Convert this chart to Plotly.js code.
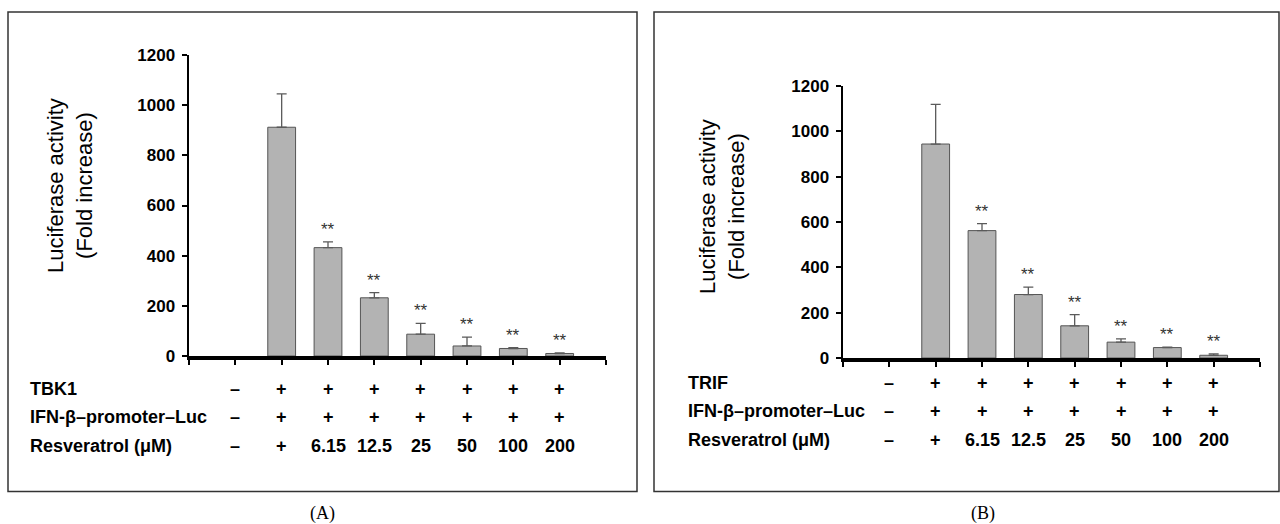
<!DOCTYPE html>
<html>
<head>
<meta charset="utf-8">
<script src="https://cdn.plot.ly/plotly-3.0.1.min.js"></script>
<style>html,body{margin:0;padding:0;background:#fff;}#chart{width:1280px;height:524px;}</style>
</head>
<body>
<div id="chart"></div>
<script>
// ---- data ----
const positions = [1, 2, 3, 4, 5, 6, 7, 8];
const valuesA = [0, 912, 432, 232, 87, 40, 30, 10];
const errorsA = [null, 133, 23, 21, 43, 35, 3, 2];
const valuesB = [0, 944, 562, 280, 142, 70, 46, 12];
const errorsB = [null, 175, 31, 33, 49, 14, 2, 6];
const sig = ['', '', '**', '**', '**', '**', '**', '**'];
const rowNamesA = ['TBK1', 'IFN-β–promoter–Luc', 'Resveratrol (μM)'];
const rowNamesB = ['TRIF', 'IFN-β–promoter–Luc', 'Resveratrol (μM)'];
const rowKinase = ['–', '+', '+', '+', '+', '+', '+', '+'];
const rowReporter = ['–', '+', '+', '+', '+', '+', '+', '+'];
const rowResveratrol = ['–', '+', '6.15', '12.5', '25', '50', '100', '200'];
const yTitle = 'Luciferase activity<br>(Fold increase)';
const panelLabels = ['(A)', '(B)'];

// ---- layout helpers ----
const W = 1280, H = 524;
const px = v => v / W;
const py = v => 1 - v / H;
const FONT = 'Liberation Sans, Arial, sans-serif';

function barTrace(vals, errs, xa, ya) {
  return {
    type: 'bar', x: positions, y: vals.map(v => v > 0 ? v : null), xaxis: xa, yaxis: ya, width: 0.6,
    marker: {color: '#b3b3b3', line: {color: '#555555', width: 1}},
    error_y: {type: 'data', array: errs, symmetric: false, arrayminus: errs.map(() => 0),
              color: '#5a5a5a', thickness: 1.3, width: 5},
    hoverinfo: 'skip', showlegend: false
  };
}

const traces = [barTrace(valuesA, errorsA, 'x', 'y'), barTrace(valuesB, errorsB, 'x2', 'y2')];

function xAxis(domain, anchor) {
  return {domain: domain, anchor: anchor, range: [0, 9], tickvals: [0,1,2,3,4,5,6,7,8,9],
          showticklabels: false, ticks: 'outside', ticklen: 5, tickwidth: 2, tickcolor: '#000',
          showline: true, linecolor: '#000', linewidth: 3.5, showgrid: false, zeroline: false, fixedrange: true};
}
function yAxis(domain, anchor) {
  return {domain: domain, anchor: anchor, range: [0, 1200], dtick: 200, tick0: 0,
          ticks: 'outside', ticklen: 5, tickwidth: 2, tickcolor: '#000', ticklabelstandoff: 3,
          tickfont: {family: FONT, size: 17, color: '#000', weight: 'bold'},
          showline: true, linecolor: '#000', linewidth: 2.5, showgrid: false, zeroline: false, fixedrange: true};
}

const annotations = [];
function addPanel(xref, yref, vals, errs, names, labelX, rowYs, titleX, titleY, panelX, panelLabel) {
  // significance stars
  positions.forEach((p, i) => {
    if (sig[i]) annotations.push({x: p, y: vals[i] + (errs[i] || 0), xref: xref, yref: yref, text: sig[i],
      showarrow: false, yanchor: 'bottom', yshift: 1, font: {family: FONT, size: 17, color: '#333'}});
  });
  // treatment rows
  const rows = [rowKinase, rowReporter, rowResveratrol];
  rows.forEach((row, r) => {
    annotations.push({x: px(labelX), y: py(rowYs[r]), xref: 'paper', yref: 'paper', text: names[r],
      showarrow: false, xanchor: 'left', yanchor: 'middle', font: {family: FONT, size: 18, color: '#000', weight: 'bold'}});
    row.forEach((t, i) => {
      annotations.push({x: positions[i], y: py(rowYs[r]), xref: xref, yref: 'paper', text: t,
        showarrow: false, xanchor: 'center', yanchor: 'middle', font: {family: FONT, size: 18, color: '#000', weight: 'bold'}});
    });
  });
  // y title
  annotations.push({x: px(titleX), y: py(titleY), xref: 'paper', yref: 'paper', text: yTitle, textangle: -90,
    showarrow: false, xanchor: 'center', yanchor: 'middle', font: {family: FONT, size: 22, color: '#000'}});
  // panel label
  annotations.push({x: px(panelX), y: py(513), xref: 'paper', yref: 'paper', text: panelLabel,
    showarrow: false, xanchor: 'center', yanchor: 'middle', font: {family: 'Liberation Serif, Times New Roman, serif', size: 18, color: '#000'}});
}

addPanel('x', 'y', valuesA, errorsA, rowNamesA, 28, [389, 417, 446], 70, 186, 322, panelLabels[0]);
addPanel('x2', 'y2', valuesB, errorsB, rowNamesB, 686, [383, 411, 440], 722, 207, 983, panelLabels[1]);

const shapes = [
  {type: 'rect', xref: 'paper', yref: 'paper', x0: px(8), x1: px(637), y0: py(491.5), y1: py(12), line: {color: '#333', width: 1.5}},
  {type: 'rect', xref: 'paper', yref: 'paper', x0: px(654), x1: px(1279), y0: py(491.5), y1: py(12), line: {color: '#333', width: 1.5}}
];

const layout = {
  width: W, height: H, margin: {l: 0, r: 0, t: 0, b: 0},
  paper_bgcolor: '#fff', plot_bgcolor: 'rgba(0,0,0,0)', showlegend: false,
  xaxis: xAxis([px(189), px(606)], 'y'),
  yaxis: yAxis([py(356), py(55)], 'x'),
  xaxis2: xAxis([px(843), px(1260)], 'y2'),
  yaxis2: yAxis([py(358), py(86)], 'x2'),
  annotations: annotations, shapes: shapes
};

Plotly.newPlot('chart', traces, layout, {displayModeBar: false, staticPlot: true});
</script>
</body>
</html>
